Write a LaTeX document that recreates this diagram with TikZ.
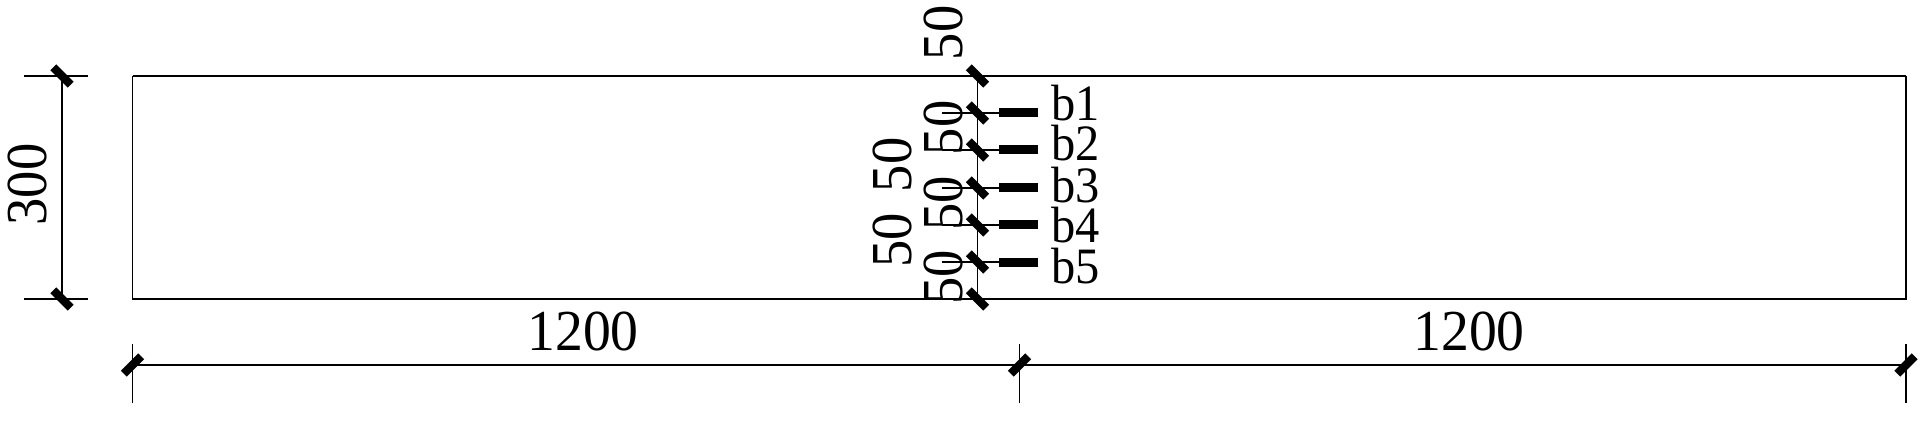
\documentclass[tikz,border=0pt]{standalone}
\usepackage{fontspec}
\setmainfont{Liberation Serif}
\tikzset{
  x=1pt,y=-1pt,
  thinln/.style={line width=1.7pt,line cap=butt},
  tick/.style={line width=8.4pt,line cap=butt},
  bar/.style={line width=9pt,line cap=butt},
  dimtxt/.style={inner sep=0pt,font=\fontsize{58}{58}\selectfont,rotate=90,xscale=.94},
  dimh/.style={inner sep=0pt,font=\fontsize{58}{58}\selectfont,xscale=.96},
  lab/.style={inner sep=0pt,anchor=base west,font=\fontsize{51}{51}\selectfont,xscale=.95},
}
\newcommand{\tk}[2]{\draw[tick] ([shift={(-8.7,-8.7)}]#1,#2) -- ([shift={(8.7,8.7)}]#1,#2);}
\newcommand{\tkr}[2]{\draw[tick] ([shift={(-8.7,8.7)}]#1,#2) -- ([shift={(8.7,-8.7)}]#1,#2);}
\begin{document}
\begin{tikzpicture}
\useasboundingbox (0,0) rectangle (1925,422);
\coordinate (tl) at (132.5,76);
\coordinate (tr) at (1906,76);
\coordinate (bl) at (132.5,299);
\coordinate (br) at (1906,299);
\draw[thinln] (tl) -- (bl) -- (br) -- (tr);
\draw[line width=2.4pt] (tl) -- (tr);
\draw[line width=2.4pt] (tr) -- (br);
% left dim
\coordinate (la) at (24,76);\coordinate (lb) at (88,76);
\coordinate (lc) at (24,299);\coordinate (ld) at (88,299);
\draw[thinln] (la) -- (lb);
\draw[thinln] (lc) -- (ld);
\draw[thinln] (62,76) -- (62,299);
\tk{62}{76}\tk{62}{299}
\node[dimtxt] (t300) at (27.5,184.5) {300};
% bottom dim
\draw[thinln] (132.5,365) -- (1906,365);
\draw[thinln] (132.5,344) -- (132.5,403);
\draw[thinln] (1019.5,344) -- (1019.5,403);
\draw[line width=2.4pt] (1906,344) -- (1906,403);
\tkr{132.5}{365}\tkr{1019.5}{365}\tkr{1906}{365}
\node[dimh] (t1) at (583,331.7) {1200};
\node[dimh] (t2) at (1469,331.7) {1200};
% centre dim
\draw[thinln] (977.5,76) -- (977.5,299);
\foreach \y/\l/\b in {113/b1/120.5,150/b2/161,188/b3/203,225/b4/242.5,262/b5/283}{
  \draw[thinln] (942,\y) -- (1000,\y);
  \draw[bar] (999,\y) -- (1038,\y);
  \node[lab] at (1051,\b) {\l};
}
\foreach \y in {76,113,150,188,225,262,299}{\tk{977.5}{\y}}
\foreach \y in {33,128,203,277}{\node[dimtxt] at (943,\y) {50};}
\foreach \y in {165,240}{\node[dimtxt] at (892,\y) {50};}
\end{tikzpicture}
\end{document}
